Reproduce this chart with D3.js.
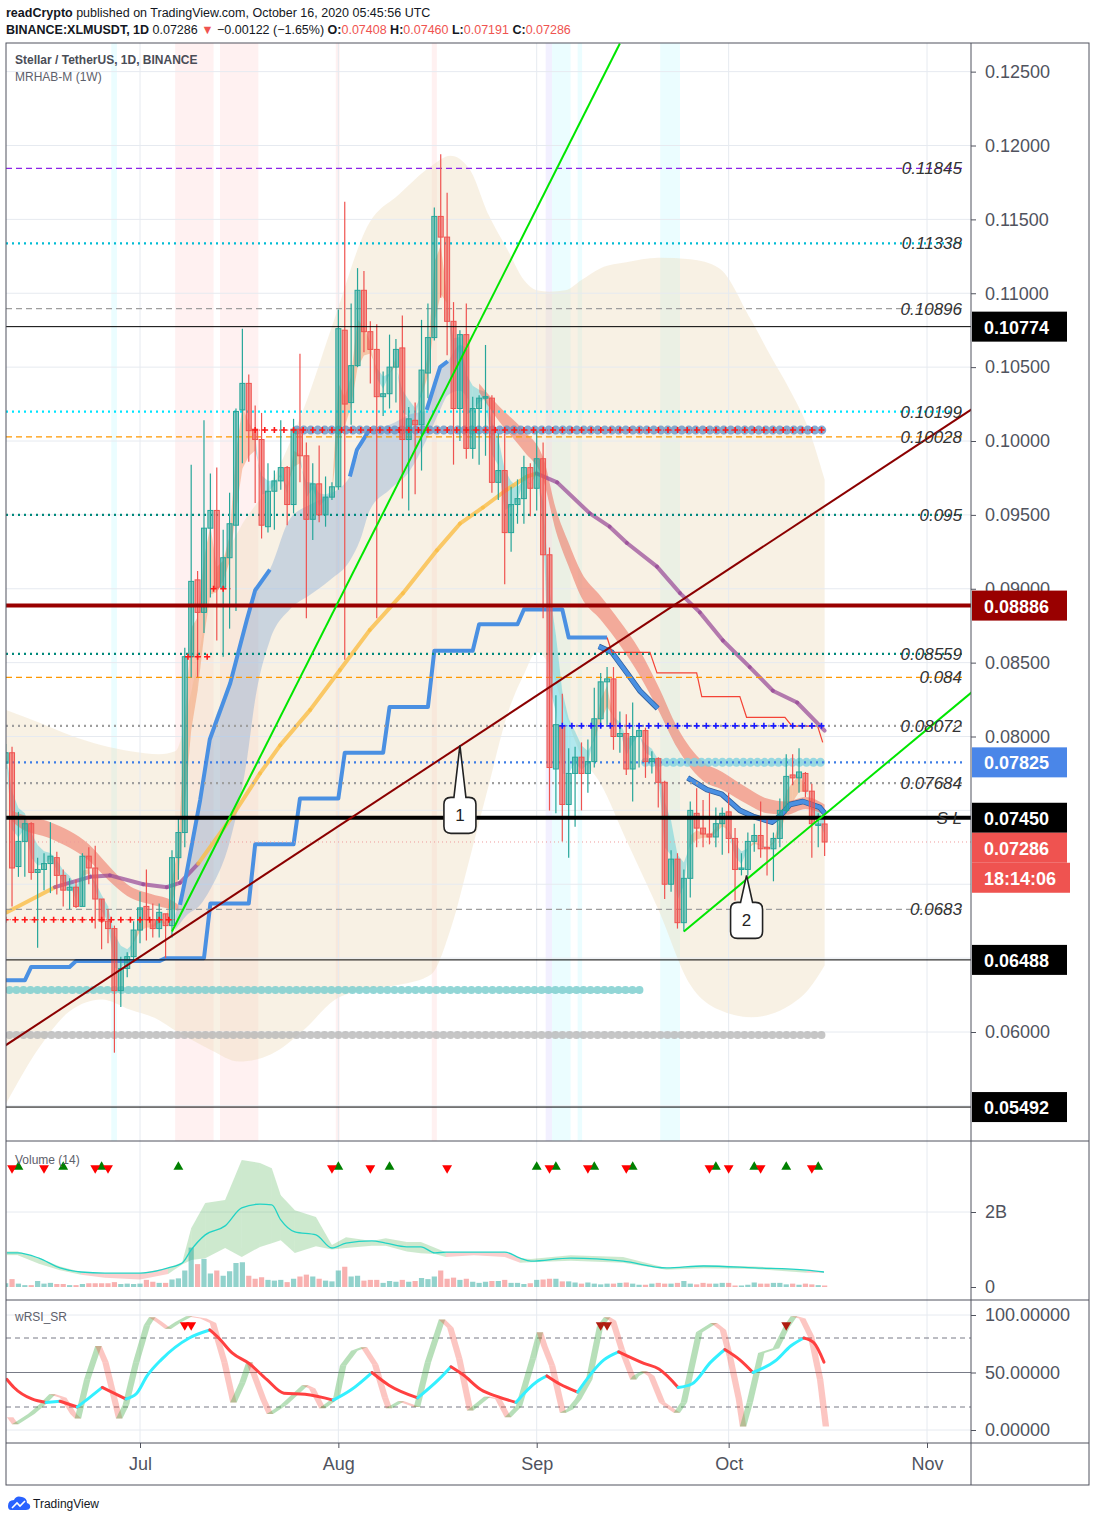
<!DOCTYPE html>
<html>
<head>
<meta charset="utf-8">
<script src="https://cdn.jsdelivr.net/npm/d3@7"></script>
<style>
  body { margin: 0; background: #fff; }
  svg text { font-family: "Liberation Sans", Arial, sans-serif; }
</style>
</head>
<body>
<svg id="chart" width="1096" height="1522"></svg>
<script>
//
// Data (days are counted from 2020-07-01, first candle is 2020-06-10)
//
const firstDay = -21;

const opens = [
  .0782, .0789, .0712, .0729, .0741, .0708, .0710, .0714, .0718, .0706,
  .0696, .0698, .0685, .0719, .0711, .0690, .0675, .0670, .0628, .0643,
  .0651, .0669, .0685, .0676, .0670, .0680, .0672, .0718, .0735, .0854,
  .0906, .0884, .0941, .0953, .0901, .0921, .0943, .1021, .1039, .1008,
  .1001, .0942, .0966, .0973, .0982, .0957, .1008, .0990, .0947, .0971,
  .0950, .0962, .0969, .1075, .1026, .1051, .1102, .1074, .1062, .1030,
  .1032, .1050, .1063, .1001, .1014, .1011, .1046, .1070, .1152, .1138,
  .1081, .1022, .1072, .0995, .1022, .1029, .1029, .0972, .0980, .0938,
  .0957, .0961, .0982, .0968, .0988, .0923, .0778, .0807, .0754, .0775,
  .0786, .0775, .0783, .0812, .0837, .0839, .0800, .0802, .0778, .0800,
  .0804, .0783, .0785, .0769, .0700, .0717, .0674, .0704, .0748, .0738,
  .0734, .0732, .0741, .0749, .0731, .0710, .0710, .0729, .0733, .0725,
  .0724, .0731, .0750, .0774, .0772, .0775, .0763, .0740, .07408
];
const highs = [
  .0795, .0793, .0749, .0746, .0742, .0718, .0721, .0742, .0722, .0710,
  .0704, .0703, .0721, .0725, .0726, .0690, .0683, .0672, .0651, .0654,
  .0675, .0695, .0710, .0687, .0687, .0680, .0723, .0745, .0860, .0984,
  .0912, .1014, .0978, .0982, .0940, .0965, .1022, .1076, .1045, .1024,
  .1019, .0985, .0980, .1014, .0983, .1015, .1059, .0999, .0985, .0997,
  .0976, .0972, .1089, .1162, .1093, .1117, .1115, .1081, .1079, .1047,
  .1072, .1069, .1085, .1023, .1026, .1082, .1093, .1158, .1194, .1168,
  .1094, .1075, .1093, .1030, .1031, .1065, .1031, .1005, .1005, .0969,
  .0974, .0990, .0985, .1007, .0999, .0928, .0828, .0829, .0792, .0793,
  .0796, .0798, .0833, .0843, .0847, .0847, .0817, .0815, .0823, .0809,
  .0806, .0790, .0786, .0770, .0723, .0721, .0710, .0756, .0765, .0757,
  .0762, .0752, .0752, .0762, .0738, .0721, .0735, .0741, .0756, .0745,
  .0735, .0758, .0788, .0788, .0792, .0776, .0768, .0748, .0746
];
const lows = [
  .0778, .0685, .0705, .0705, .0703, .0657, .0696, .0694, .0693, .0685,
  .0683, .0684, .0685, .0700, .0670, .0656, .0660, .0586, .0617, .0637,
  .0647, .0660, .0662, .0664, .0664, .0650, .0664, .0703, .0725, .0840,
  .0840, .0870, .0894, .0865, .0854, .0873, .0885, .0985, .0986, .0958,
  .0934, .0938, .0940, .0967, .0943, .0951, .0972, .0880, .0933, .0945,
  .0942, .0960, .0967, .0852, .1011, .1050, .1060, .1039, .0880, .1017,
  .1022, .1026, .0961, .0953, .0964, .0980, .1029, .1068, .1097, .1058,
  .0984, .1000, .0988, .0988, .0984, .0990, .0965, .0960, .0903, .0925,
  .0944, .0944, .0949, .0953, .0880, .0750, .0748, .0729, .0718, .0739,
  .0750, .0762, .0779, .0806, .0808, .0791, .0789, .0774, .0756, .0779,
  .0772, .0775, .0752, .0690, .0695, .0670, .0668, .0691, .0725, .0725,
  .0727, .0725, .0720, .0721, .0689, .0706, .0706, .0722, .0718, .0706,
  .0702, .0725, .0748, .0767, .0762, .0759, .0718, .0725, .07191
];
const closes = [
  .0789, .0711, .0729, .0741, .0708, .0710, .0714, .0719, .0706, .0696,
  .0698, .0685, .0719, .0711, .0690, .0675, .0670, .0628, .0643, .0651,
  .0669, .0684, .0676, .0670, .0681, .0672, .0718, .0735, .0854, .0905,
  .0884, .0941, .0953, .0901, .0921, .0944, .1020, .1039, .1007, .1001,
  .0943, .0966, .0973, .0982, .0957, .1008, .0990, .0947, .0971, .0950,
  .0962, .0969, .1076, .1025, .1051, .1102, .1074, .1062, .1030, .1032,
  .1050, .1062, .1001, .1015, .1011, .1048, .1070, .1152, .1138, .1081,
  .1022, .1072, .0995, .1022, .1029, .1030, .0972, .0980, .0938, .0957,
  .0961, .0982, .0968, .0988, .0923, .0779, .0808, .0754, .0775, .0786,
  .0775, .0783, .0812, .0837, .0839, .0800, .0802, .0778, .0800, .0804,
  .0783, .0785, .0769, .0700, .0717, .0674, .0704, .0750, .0738, .0734,
  .0732, .0741, .0748, .0731, .0710, .0711, .0729, .0733, .0724, .0724,
  .0731, .0750, .0773, .0772, .0776, .0763, .0741, .07408, .07286
];
// volume in billions
const volumes = [
  .10, .21, .09, .05, .05, .16, .09, .11, .08, .08,
  .05, .05, .08, .10, .10, .10, .10, .13, .08, .09,
  .08, .09, .19, .14, .11, .11, .20, .23, .44, 1.05,
  .61, .75, .36, .44, .30, .42, .64, .66, .30, .22,
  .26, .19, .17, .19, .13, .22, .28, .33, .28, .22,
  .17, .15, .44, .54, .28, .30, .17, .19, .19, .11,
  .16, .14, .19, .14, .16, .24, .21, .28, .44, .22,
  .25, .19, .22, .14, .11, .14, .16, .16, .19, .11,
  .11, .08, .10, .19, .20, .22, .22, .15, .15, .12,
  .09, .12, .09, .07, .09, .09, .11, .12, .09, .06,
  .06, .09, .11, .09, .09, .11, .16, .09, .07, .11,
  .09, .09, .11, .11, .04, .04, .06, .12, .09, .09,
  .11, .11, .07, .09, .06, .09, .07, .05, .04
];

// weekly envelope (beige cloud)
const envDays = [-21, -15.5, -11, -6, -1.5, 3, 5.5, 8, 11, 15.5, 20.5, 25.5, 30.5, 35.5, 40.5, 45.5, 48.5, 51.5,
  54.5, 57.5, 60, 62, 64, 66.5, 69, 72, 76, 81, 86, 90.5, 95.5, 98.5, 101.5, 104.5, 107];
const envUpper = [.0818, .0809, .0801, .0794, .0790, .0788, .0790, .0830, .0895, .0940, .0972, .1021, .1084, .1145,
  .1167, .1186, .1193, .1184, .1153, .1129, .1109, .1102, .1101, .1102, .1109, .1117, .1121, .1124, .1123, .1117,
  .1082, .1058, .1035, .1008, .0974];
const envLower = [.0551, .0591, .0614, .0622, .0615, .0608, .0601, .0595, .0588, .0580, .0585, .0601, .0622, .0629,
  .0632, .0639, .0669, .0717, .0767, .0816, .0842, .0857, .0848, .0815, .0787, .0768, .0730, .0683, .0632, .0615,
  .0610, .0612, .0618, .0629, .0645];

// slow bearish ribbon (salmon)
const slowJunDays = [-20, -19, -14, -8, -5, -2, 2, 5, 6];
const slowJunHi = [.0750, .0748, .0742, .0727, .0713, .0700, .0693, .0689, .0686];
const slowJunLo = [.0743, .0739, .0731, .0716, .0703, .0692, .0686, .0683, .0682];
const slowSepDays = [53, 56, 60, 63, 65, 67, 69, 72, 75, 78, 81, 84, 88, 91, 95, 98, 101, 104, 107];
const slowSepHi = [.1039, .1024, .1007, .0989, .0954, .0931, .0911, .0895, .0878, .0859, .0834, .0806, .0783, .0776,
  .0765, .0758, .0756, .0759, .0754];
const slowSepLo = [.1033, .1014, .0993, .0974, .0939, .0915, .0894, .0879, .0862, .0842, .0818, .0792, .0770, .0764,
  .0754, .0748, .0747, .0751, .0747];

// blue cloud
const cloudDays = [5.5, 7.3, 9.4, 10.9, 14.1, 16.7, 18, 20.3, 23.4, 26.6, 29.7, 32.8, 34.4, 35.9, 39, 42.2, 44.8, 46.9, 48.1, 50, 51.3];
const cloudUpper = [.0679, .0708, .0757, .0798, .0836, .0879, .0899, .0913, .0947, .0957, .0964, .0976, .0994, .1008,
  .1011, .1018, .1021, .1050, .1054, .1065, .1062];
const cloudLower = [.0669, .0679, .0686, .0696, .0730, .0784, .0825, .0865, .0886, .0896, .0906, .0919, .0933, .0953,
  .0967, .0980, .1001, .1021, .1031, .1034, .1028];

// thick blue line pieces
const blueLineDays = [
  [6.25, 7.3, 9.4, 10.9, 14.1, 16.7, 18, 20.3],
  [32.8, 33.9, 35.9],
  [44.8, 46.9, 48.1],
  [71.7, 73.75, 76.1, 78.1, 80.9],
  [85.6, 88.6, 90.9, 93.75, 95.8, 98.75, 100, 101.6, 103.6, 106.25, 107]
];
const blueLinePrices = [
  [.0686, .0708, .0757, .0798, .0836, .0879, .0899, .0913],
  [.0976, .0994, .1008],
  [.1021, .1050, .1054],
  [.0861, .0857, .0843, .0831, .0819],
  [.0772, .0764, .0761, .0750, .0746, .0742, .0746, .0754, .0756, .0752, .0748]
];

// moving average (yellow / purple)
const maDays = [-20.8, -13.3, -7.8, -4.7, 0.5, 4.2, 6.25, 9.1, 14.1, 18.75, 21.9, 26.6, 31.25, 35.9, 41.1, 46.4, 50,
  53.6, 57.3, 60.5, 62, 65.2, 70.3, 73.4, 76.1, 80.8, 84.4, 87.5, 91.1, 95.3, 98.9, 102.7, 107];
const maValues = [.0681, .0698, .0705, .0706, .0700, .0698, .0701, .0714, .0744, .0775, .0794, .0818, .0845, .0872,
  .0897, .0926, .0944, .0955, .0967, .0976, .0978, .0972, .0951, .0942, .0931, .0915, .0897, .0884, .0865, .0847,
  .0831, .0823, .0804];
const maBearRanges = [[-13.3, 9.1], [62, 107]];

// weekly step (MRHAB 1W) and red trailing step
const weekStarts = [-21, -17, -10, -3, 4, 11, 18, 25, 32, 39, 46, 53, 60, 67];
const weekLevels = [.0635, .0644, .0648, .0648, .0650, .0687, .0727, .0758, .0789, .0820, .0858, .0876, .0886, .0867];
const weekEnd = 73;
const redStepDays = [73, 73.75, 79.7, 80.8, 87, 87.8, 93.75, 94.8, 100.8, 101.9, 105.9, 106.7];
const redStepPrices = [.0867, .0857, .0857, .0843, .0843, .0827, .0827, .0813, .0813, .0807, .0807, .0796];

// red "+" support steps
const supportStarts = [-21, 7.5, 11.5, 18];
const supportEnds = [5.5, 11, 14.5, 107.3];
const supportPrices = [.0676, .0854, .0900, .10074];

// horizontal levels
const levelPrices = [0.11845, 0.11338, 0.10896, 0.10199, 0.10028, 0.095, 0.08559, 0.084, 0.08072, 0.07825, 0.07684, 0.0683];
const levelLabels = ['0.11845', '0.11338', '0.10896', '0.10199', '0.10028', '0.095', '0.08559', '0.084', '0.08072', '', '0.07684', '0.0683'];
const solidPrices = [0.10774, 0.08886, 0.0745, 0.06488, 0.05492];
const boxPrices = [0.10774, 0.08886, 0.07825, 0.0745, 0.07286, 0.06488, 0.05492];
const countdown = '18:14:06';
const priceTicks = [0.055, 0.06, 0.065, 0.07, 0.075, 0.08, 0.085, 0.09, 0.095, 0.10, 0.105, 0.11, 0.115, 0.12, 0.125];

// trend lines [day, price] pairs
const trendRed = [[-21, 0.0591], [130, 0.10215]];
const trendGreenA = [[5, 0.0668], [75, 0.1269]];
const trendGreenB = [[85, 0.0668], [130, 0.0830]];
const calloutDays = [50, 94.8];
const calloutPrices = [0.0794, 0.0706];
const calloutTexts = ['1', '2'];

// background highlight columns
const pinkBands = [[5.5, 11.5], [12.5, 18.5], [30.6, 31.2], [45.6, 46.4]];
const cyanBands = [[-4.5, -3.6], [64.4, 67.3], [68.4, 69.1], [81.3, 84.4]];
const lilacBands = [[63.4, 64.4]];

// volume pane indicator
const volMaDays = [-20.8, -19.1, -15.8, -12.5, -9.2, -5.5, 0, 4.4, 6.6, 8, 10.2, 13.3, 15.9, 18.75, 20.6, 22, 24.2,
  27.5, 30, 32.2, 36.25, 38.4, 41.7, 43.9, 46.1, 47.8, 52.2, 57, 59.4, 61.1, 67.3, 75.5, 82.3, 88.1, 96.1, 104.2, 106.9];
const volMaVals = [.91, .91, .77, .51, .40, .37, .37, .51, .64, .99, 1.39, 1.63, 2.11, 2.21, 2.19, 1.79, 1.47, 1.39,
  1.04, 1.17, 1.23, 1.17, 1.07, 1.07, .91, .93, .93, .93, .77, .69, .77, .69, .51, .56, .51, .45, .40];
const volHi = [.95, .95, .77, .55, .40, .37, .37, .51, .66, 1.57, 2.24, 2.32, 3.39, 3.31, 3.17, 2.45, 2.05, 1.87,
  1.12, 1.33, 1.23, 1.30, 1.20, 1.20, 1.05, .93, .93, .93, .77, .75, .85, .80, .51, .58, .55, .45, .40];
const volLo = [.85, .85, .62, .45, .33, .25, .20, .35, .60, .72, .77, 1.04, .80, 1.07, 1.17, 1.25, .91, 1.09,
  1.00, 1.04, 1.10, 1.10, .95, .90, .88, .80, .85, .80, .65, .66, .70, .65, .46, .50, .48, .38, .38];
const volUpDays = [-19, -12, -6, 6, 31, 39, 62, 65, 71, 77, 90, 96, 101, 106];
const volDownDays = [-20, -15, -7, -5, 30, 36, 48, 64, 70, 76, 89, 92, 97, 105];

// wRSI_SR
const rsiSigDays = [-20.8, -19.7, -16.9, -14.7, -12.5, -9.8, -7.7, -5.9, -4.8, -2.2, -0.5, 1.1, 3.3, 7.7, 10.9, 12.3,
  14.4, 17, 19.8, 22.5, 25.8, 30.2, 33, 36.25, 38.9, 43.4, 46.7, 48.6, 50.5, 53.3, 55.9, 58.75, 62, 63.6, 65.6, 68.4,
  72.5, 74.8, 78.75, 81.1, 84.1, 86.25, 89.2, 91.4, 93.75, 95.8, 99.5, 101.7, 103.75, 105.3, 106.9];
const rsiSigVals = [44, 37, 27, 24, 25, 20, 29, 37, 34, 27, 32, 47, 61, 80, 87, 80, 67, 58, 44, 32, 31, 26, 35, 50,
  39, 28, 44, 55, 48, 35, 29, 24, 42, 47, 40, 33, 61, 68, 58, 53, 37, 40, 59, 70, 61, 50, 61, 73, 80, 76, 59];
const rsiFastDays = [-20.8, -20, -17.5, -15.8, -14.2, -12.5, -10.9, -10.2, -8.75, -7, -5.9, -3.75, -2.7, -1.1, 0.6,
  1.4, 2.5, 3.9, 5.5, 7.2, 9.4, 10.9, 12.7, 14.1, 15.5, 16.6, 18.75, 19.8, 22, 25.3, 26.4, 28, 30.2, 31.25, 33, 34.5,
  36.25, 37.8, 38.4, 40.3, 42.8, 44.5, 46.7, 48, 49.4, 51.1, 53.75, 55.5, 57, 58.75, 60.9, 62, 62.7, 63.9, 65.6, 66.7,
  68, 69.7, 71.4, 72.5, 73.4, 74.8, 76.6, 77, 78.3, 79.4, 81.1, 83.4, 84.5, 86.9, 89.2, 90.6, 91.7, 93.1, 93.75, 94.8,
  96.6, 98.9, 100.6, 101.7, 103, 104.4, 105.8, 106.7];
const rsiFastVals = [11, 5, 14, 22, 31, 28, 14, 10, 44, 73, 59, 10, 22, 59, 91, 98, 94, 88, 94, 99, 97, 93, 59, 24,
  41, 59, 27, 14, 22, 39, 36, 19, 28, 56, 69, 72, 57, 28, 19, 25, 20, 59, 96, 89, 62, 17, 29, 27, 11, 21, 62, 85, 73,
  56, 15, 18, 27, 44, 90, 98, 95, 70, 44, 47, 51, 47, 24, 15, 24, 85, 93, 87, 64, 27, 3, 24, 67, 71, 90, 99, 97, 81,
  44, 3];
const rsiMarkDays = [7, 8, 72, 73, 101];

const monthTicks = ['2020-07-01', '2020-08-01', '2020-09-01', '2020-10-01', '2020-11-01'];

//
// Layout & scales
//
const plotL = 6, plotR = 971, mainT = 43, mainB = 1141, volB = 1300, rsiB = 1443, axisB = 1485, frameR = 1089;
const axisColor = '#50535e';
const gridColor = '#e6eaf0';

const day0 = Date.UTC(2020, 6, 1);
const x = d3.scaleUtc()
  .domain([new Date(day0), new Date(Date.UTC(2020, 10, 1))])
  .range([140, 927]);
const dx = d => x(new Date(day0 + d * 864e5));
const y = d3.scaleLinear().domain([0.06, 0.10]).range([1032, 441]);
const yv = d3.scaleLinear().domain([0, 2]).range([1287, 1212]);
const yr = d3.scaleLinear().domain([0, 100]).range([1430, 1315]);

const days = opens.map((o, i) => firstDay + i);
const monthDates = monthTicks.map(d3.utcParse('%Y-%m-%d'));

const svg = d3.select('#chart');
svg.append('rect').attr('width', 1096).attr('height', 1522).attr('fill', '#fff');

const defs = svg.append('defs');
const clip = (id, y0, y1) => defs.append('clipPath').attr('id', id).append('rect')
  .attr('x', plotL).attr('y', y0).attr('width', plotR - plotL).attr('height', y1 - y0);
clip('clipMain', mainT, mainB);
clip('clipVol', mainB, volB);
clip('clipRsi', volB, rsiB);

//
// Header
//
const head = svg.append('g').style('font-size', '12.5px').attr('fill', '#131722');
const h1 = head.append('text').attr('x', 6).attr('y', 17);
h1.append('tspan').attr('font-weight', 'bold').text('readCrypto');
h1.append('tspan').text(' published on TradingView.com, October 16, 2020 05:45:56 UTC');
const h2 = head.append('text').attr('x', 6).attr('y', 34);
h2.append('tspan').attr('font-weight', 'bold').text('BINANCE:XLMUSDT, 1D');
h2.append('tspan').text(' 0.07286 ');
h2.append('tspan').attr('fill', '#ef5350').text('▼');
h2.append('tspan').text(' −0.00122 (−1.65%) ');
[['O:', '0.07408'], ['H:', '0.07460'], ['L:', '0.07191'], ['C:', '0.07286']].forEach(([k, v], i) => {
  h2.append('tspan').attr('font-weight', 'bold').text((i ? ' ' : '') + k);
  h2.append('tspan').attr('fill', '#ef5350').text(v);
});

//
// Main pane
//
const main = svg.append('g').attr('clip-path', 'url(#clipMain)');

const addBands = (list, fill) => list.forEach(b => main.append('rect')
  .attr('x', dx(b[0])).attr('width', dx(b[1]) - dx(b[0]))
  .attr('y', mainT).attr('height', mainB - mainT).attr('fill', fill));
addBands(pinkBands, 'rgba(255,82,82,0.08)');
addBands(cyanBands, 'rgba(0,229,255,0.08)');
addBands(lilacBands, 'rgba(110,90,255,0.09)');

// beige envelope
const envData = envDays.map((d, i) => ({ d, hi: envUpper[i], lo: envLower[i] }));
main.append('path').datum(envData)
  .attr('d', d3.area().x(e => dx(e.d)).y0(e => y(e.lo)).y1(e => y(e.hi)).curve(d3.curveMonotoneX))
  .attr('fill', '#ecd9b8').attr('opacity', 0.38);

// grid
priceTicks.forEach(p => main.append('line').attr('x1', plotL).attr('x2', plotR)
  .attr('y1', y(p)).attr('y2', y(p)).attr('stroke', gridColor));
monthDates.forEach(m => main.append('line').attr('x1', x(m)).attr('x2', x(m))
  .attr('y1', mainT).attr('y2', mainB).attr('stroke', gridColor));

// fast ribbon from the closes
const ema = (arr, n) => {
  const k = 2 / (n + 1), out = [];
  arr.forEach((v, i) => out.push(i ? v * k + out[i - 1] * (1 - k) : v));
  return out;
};
const fastA = ema(closes, 2), fastB = ema(closes, 5);
for (let i = 0; i < days.length - 1; i++) {
  const up = fastA[i] + fastA[i + 1] >= fastB[i] + fastB[i + 1];
  const pts = [[dx(days[i]), y(fastA[i])], [dx(days[i + 1]), y(fastA[i + 1])],
    [dx(days[i + 1]), y(fastB[i + 1])], [dx(days[i]), y(fastB[i])]];
  main.append('path').attr('d', 'M' + pts.join('L') + 'Z')
    .attr('fill', up ? 'rgba(240,135,80,0.42)' : 'rgba(70,200,215,0.42)');
}

// slow salmon ribbon
const bandArea = d3.area().x(e => dx(e.d)).y0(e => y(e.lo)).y1(e => y(e.hi)).curve(d3.curveMonotoneX);
[[slowJunDays, slowJunHi, slowJunLo], [slowSepDays, slowSepHi, slowSepLo]].forEach(([ds, hs, ls]) => {
  main.append('path').datum(ds.map((d, i) => ({ d, hi: hs[i], lo: ls[i] })))
    .attr('d', bandArea).attr('fill', 'rgba(238,100,80,0.5)');
});

// blue cloud
main.append('path').datum(cloudDays.map((d, i) => ({ d, hi: cloudUpper[i], lo: cloudLower[i] })))
  .attr('d', bandArea).attr('fill', 'rgba(110,155,210,0.33)');

// moving average, purple when bearish
const isBear = d => maBearRanges.some(r => d >= r[0] - 1e-6 && d <= r[1] + 1e-6);
for (let i = 0; i < maDays.length - 1; i++) {
  const bear = isBear((maDays[i] + maDays[i + 1]) / 2);
  main.append('line')
    .attr('x1', dx(maDays[i])).attr('y1', y(maValues[i]))
    .attr('x2', dx(maDays[i + 1])).attr('y2', y(maValues[i + 1]))
    .attr('stroke', bear ? 'rgba(150,70,150,0.7)' : 'rgba(250,190,70,0.8)')
    .attr('stroke-width', 4).attr('stroke-linecap', 'round');
}

// thick blue line pieces
const line = d3.line().x(p => dx(p[0])).y(p => y(p[1]));
blueLineDays.forEach((ds, k) => {
  const pts = ds.map((d, i) => [d, blueLinePrices[k][i]]);
  if (k >= 3) {
    main.append('path').datum(pts).attr('d', line).attr('fill', 'none')
      .attr('stroke', '#2f5f9e').attr('stroke-width', 5.5).attr('stroke-linejoin', 'round');
  }
  main.append('path').datum(pts).attr('d', line).attr('fill', 'none')
    .attr('stroke', '#4a90e2').attr('stroke-width', 4).attr('stroke-linejoin', 'round');
});

// weekly step
const stepPts = [];
weekStarts.forEach((s, i) => {
  const e = i < weekStarts.length - 1 ? weekStarts[i + 1] - 1 : weekEnd;
  stepPts.push([s, weekLevels[i]], [e, weekLevels[i]]);
});
main.append('path').datum(stepPts).attr('d', line).attr('fill', 'none')
  .attr('stroke', '#4a90e2').attr('stroke-width', 4).attr('stroke-linejoin', 'round');

// red trailing step
main.append('path').datum(redStepDays.map((d, i) => [d, redStepPrices[i]])).attr('d', line)
  .attr('fill', 'none').attr('stroke', '#f44336').attr('stroke-width', 1.2);

// bead lines
const beads = (p, d0, d1, color, w, op) => main.append('line')
  .attr('x1', dx(d0)).attr('x2', dx(d1)).attr('y1', y(p)).attr('y2', y(p))
  .attr('stroke', color).attr('stroke-width', w).attr('stroke-dasharray', '0 7')
  .attr('stroke-linecap', 'round').attr('opacity', op);
beads(0.0598, -21.5, 107.3, '#b8b8b8', 8, 0.8);
beads(0.06284, -21.5, 78.1, '#7fcfd0', 8, 0.85);
beads(0.07825, 79, 107.3, '#7fd3e0', 9, 0.8);
beads(supportPrices[3], 24.5, 107.3, '#5b8fc7', 9, 0.75);

// levels
const levelStyles = [
  ['#8e24e8', '6 4', 1.3], ['#00bcd4', '2 4', 2.2], ['#9e9e9e', '6 4', 1.3], ['#00e5ff', '2 4', 2.2],
  ['#ff9800', '6 4', 1.3], ['#00897b', '2 4', 2.2], ['#00897b', '2 4', 2.2], ['#ff9800', '6 4', 1.3],
  ['#9e9e9e', '2 4', 2.2], ['#3d7de6', '2 4', 2.2], ['#9e9e9e', '2 4', 2.2], ['#9e9e9e', '6 4', 1.3]
];
levelPrices.forEach((p, i) => main.append('line')
  .attr('x1', plotL).attr('x2', plotR - 8).attr('y1', y(p)).attr('y2', y(p))
  .attr('stroke', levelStyles[i][0]).attr('stroke-dasharray', levelStyles[i][1])
  .attr('stroke-width', levelStyles[i][2]));
// current price
main.append('line').attr('x1', plotL).attr('x2', plotR).attr('y1', y(closes[closes.length - 1]))
  .attr('y2', y(closes[closes.length - 1])).attr('stroke', '#ef9a9a').attr('stroke-dasharray', '1 3');

// candles
const candles = main.append('g');
days.forEach((d, i) => {
  const up = closes[i] >= opens[i];
  const col = up ? '#26a69a' : '#ef5350';
  const cx = dx(d);
  candles.append('line').attr('x1', cx).attr('x2', cx)
    .attr('y1', y(highs[i])).attr('y2', y(lows[i])).attr('stroke', col).attr('stroke-width', 1.2);
  const top = y(Math.max(opens[i], closes[i]));
  const h = Math.max(1.5, Math.abs(y(opens[i]) - y(closes[i])));
  candles.append('rect').attr('x', cx - 2.5).attr('y', top).attr('width', 5).attr('height', h)
    .attr('fill', up ? 'rgba(38,166,154,0.5)' : 'rgba(239,83,80,0.55)')
    .attr('stroke', col).attr('stroke-width', 1);
});

// red + support steps and blue + level
const crosses = (p, d0, d1, color) => {
  main.append('line').attr('x1', dx(d0)).attr('x2', dx(d1)).attr('y1', y(p)).attr('y2', y(p))
    .attr('stroke', color).attr('stroke-width', 1).attr('stroke-dasharray', '1 3');
  for (let xx = dx(d0); xx <= dx(d1); xx += 9.6) {
    main.append('path').attr('transform', `translate(${xx},${y(p)})`)
      .attr('d', 'M-3,0H3M0,-3V3').attr('stroke', color).attr('stroke-width', 1.6);
  }
};
supportPrices.forEach((p, i) => crosses(p, supportStarts[i], supportEnds[i], '#ff1a1a'));
crosses(levelPrices[8], 66, 107, '#1a1aff');

// solid horizontal lines
const solidStyles = [['#000', 1], ['#990000', 4], ['#000', 4], ['#000', 1], ['#000', 1]];
solidPrices.forEach((p, i) => main.append('line')
  .attr('x1', plotL).attr('x2', plotR).attr('y1', y(p)).attr('y2', y(p))
  .attr('stroke', solidStyles[i][0]).attr('stroke-width', solidStyles[i][1]));

// trend lines
const trend = (pts, color, w) => main.append('path').datum(pts).attr('d', line)
  .attr('fill', 'none').attr('stroke', color).attr('stroke-width', w);
trend(trendRed, '#8b0000', 2);
trend(trendGreenA, '#00e600', 2);
trend(trendGreenB, '#00e600', 2);

// callouts
const boxDrop = [52, 27];
calloutDays.forEach((d, i) => {
  const tx = dx(d), ty = y(calloutPrices[i]);
  const top = ty + boxDrop[i], l = tx - 16, r = tx + 16, b = top + 36, c = 7;
  const path = `M${tx + 6},${top}L${r - c},${top}Q${r},${top} ${r},${top + c}L${r},${b - c}Q${r},${b} ${r - c},${b}`
    + `L${l + c},${b}Q${l},${b} ${l},${b - c}L${l},${top + c}Q${l},${top} ${l + c},${top}L${tx - 6},${top}L${tx},${ty}Z`;
  main.append('path').attr('d', path).attr('fill', '#fff').attr('stroke', '#222').attr('stroke-width', 1.6);
  main.append('text').attr('x', tx).attr('y', top + 24).attr('text-anchor', 'middle')
    .style('font-size', '17px').attr('fill', '#222').text(calloutTexts[i]);
});

// italic level labels
levelPrices.forEach((p, i) => {
  if (!levelLabels[i]) return;
  main.append('text').attr('x', 962).attr('y', y(p) + 6).attr('text-anchor', 'end')
    .style('font-size', '17px').style('font-style', 'italic').attr('fill', '#333').text(levelLabels[i]);
});
main.append('text').attr('x', 962).attr('y', y(solidPrices[2]) + 6).attr('text-anchor', 'end')
  .style('font-size', '17px').style('font-style', 'italic').attr('fill', '#333').text('S L');

// legend
main.append('text').attr('x', 15).attr('y', 64).style('font-size', '12px').attr('font-weight', 'bold')
  .attr('fill', '#4a4d57').text('Stellar / TetherUS, 1D, BINANCE');
main.append('text').attr('x', 15).attr('y', 81).style('font-size', '12px')
  .attr('fill', '#5d606b').text('MRHAB-M (1W)');

//
// Volume pane
//
const vol = svg.append('g').attr('clip-path', 'url(#clipVol)');
monthDates.forEach(m => vol.append('line').attr('x1', x(m)).attr('x2', x(m))
  .attr('y1', mainB).attr('y2', volB).attr('stroke', gridColor));
vol.append('line').attr('x1', plotL).attr('x2', plotR).attr('y1', yv(2)).attr('y2', yv(2)).attr('stroke', gridColor);

for (let i = 0; i < volMaDays.length - 1; i++) {
  const bull = (volHi[i] - volMaVals[i]) + (volHi[i + 1] - volMaVals[i + 1]) > 0.01;
  const pts = [[dx(volMaDays[i]), yv(volHi[i])], [dx(volMaDays[i + 1]), yv(volHi[i + 1])],
    [dx(volMaDays[i + 1]), yv(volLo[i + 1])], [dx(volMaDays[i]), yv(volLo[i])]];
  vol.append('path').attr('d', 'M' + pts.join('L') + 'Z')
    .attr('fill', bull ? 'rgba(76,175,80,0.28)' : 'rgba(239,83,80,0.28)');
}
days.forEach((d, i) => {
  const up = closes[i] >= opens[i];
  vol.append('rect').attr('x', dx(d) - 2.6).attr('width', 5.2)
    .attr('y', yv(volumes[i])).attr('height', yv(0) - yv(volumes[i]))
    .attr('fill', up ? 'rgba(38,166,154,0.5)' : 'rgba(239,83,80,0.45)');
});
vol.append('path').datum(volMaDays.map((d, i) => [d, volMaVals[i]]))
  .attr('d', d3.line().x(p => dx(p[0])).y(p => yv(p[1])).curve(d3.curveMonotoneX))
  .attr('fill', 'none').attr('stroke', '#22d3c5').attr('stroke-width', 1.3);

const tri = d3.symbol(d3.symbolTriangle).size(42)();
volUpDays.forEach(d => vol.append('path').attr('d', tri)
  .attr('transform', `translate(${dx(d)},1167)`).attr('fill', '#008000'));
volDownDays.forEach(d => vol.append('path').attr('d', tri)
  .attr('transform', `translate(${dx(d)},1168) rotate(180)`).attr('fill', '#ff0000'));
vol.append('text').attr('x', 15).attr('y', 1164).style('font-size', '12px').attr('fill', '#5d606b').text('Volume (14)');

//
// wRSI pane
//
const rsi = svg.append('g').attr('clip-path', 'url(#clipRsi)');
monthDates.forEach(m => rsi.append('line').attr('x1', x(m)).attr('x2', x(m))
  .attr('y1', volB).attr('y2', rsiB).attr('stroke', gridColor));
[0, 100].forEach(v => rsi.append('line').attr('x1', plotL).attr('x2', plotR)
  .attr('y1', yr(v)).attr('y2', yr(v)).attr('stroke', gridColor));
[20, 80].forEach(v => rsi.append('line').attr('x1', plotL).attr('x2', plotR)
  .attr('y1', yr(v)).attr('y2', yr(v)).attr('stroke', '#787b86').attr('stroke-dasharray', '5 4'));
rsi.append('line').attr('x1', plotL).attr('x2', plotR).attr('y1', yr(50)).attr('y2', yr(50)).attr('stroke', '#787b86');

const lagPx = dx(1) - dx(0);
for (let i = 0; i < rsiFastDays.length - 1; i++) {
  const x0 = dx(rsiFastDays[i]), x1 = dx(rsiFastDays[i + 1]);
  const y0 = yr(rsiFastVals[i]), y1 = yr(rsiFastVals[i + 1]);
  const pts = [[x0, y0], [x1, y1], [x1 + lagPx, y1], [x0 + lagPx, y0]];
  rsi.append('path').attr('d', 'M' + pts.join('L') + 'Z')
    .attr('fill', rsiFastVals[i + 1] >= rsiFastVals[i] ? 'rgba(76,175,80,0.4)' : 'rgba(244,67,54,0.3)');
}
// signal line, red while falling, cyan while rising
let run = [0];
const sigLine = d3.line().x(i => dx(rsiSigDays[i])).y(i => yr(rsiSigVals[i])).curve(d3.curveMonotoneX);
for (let i = 1; i < rsiSigDays.length; i++) {
  run.push(i);
  const rising = rsiSigVals[i] >= rsiSigVals[i - 1];
  const next = i < rsiSigDays.length - 1 ? rsiSigVals[i + 1] >= rsiSigVals[i] : !rising;
  if (next !== rising || i === rsiSigDays.length - 1) {
    rsi.append('path').datum(run).attr('d', sigLine).attr('fill', 'none')
      .attr('stroke', rising ? '#33f0ff' : '#ff4040').attr('stroke-width', 3).attr('stroke-linecap', 'round');
    run = [i];
  }
}
rsiMarkDays.forEach((d, i) => rsi.append('path').attr('d', tri)
  .attr('transform', `translate(${dx(d)},1325) rotate(180)`).attr('fill', i < 2 ? '#ff0000' : '#b01c10'));
rsi.append('text').attr('x', 15).attr('y', 1321).style('font-size', '12px').attr('fill', '#5d606b').text('wRSI_SR');

//
// Axes
//
const styleAxis = g => {
  g.attr('font-family', null).attr('font-size', null);
  g.select('.domain').remove();
  g.selectAll('line').attr('stroke', axisColor);
  g.selectAll('text').style('font-size', '18px').attr('fill', axisColor);
};

// price boxes first, to know which axis labels they hide
const boxStyles = ['#000', '#990000', '#4a86e8', '#000', '#ef5350', '#000', '#000'];
const boxes = boxPrices.map((p, i) => ({ text: d3.format('.5f')(p), c: y(p), fill: boxStyles[i], w: 95 }));
boxes.splice(5, 0, { text: countdown, c: 0, fill: '#ef5350', w: 98, after: true });
let lastBottom = -Infinity;
boxes.forEach(b => {
  if (b.after) b.c = lastBottom + 15;
  b.top = Math.max(b.c - 15, lastBottom);
  lastBottom = b.top + 30;
});
const shownTicks = priceTicks.filter(p => boxes.every(b => Math.abs(b.top + 15 - y(p)) >= 12));

svg.append('g').attr('transform', `translate(${plotR},0)`)
  .call(d3.axisRight(y).tickValues(shownTicks).tickFormat(d3.format('.5f')).tickSize(5).tickPadding(9))
  .call(styleAxis);
svg.append('g').attr('transform', `translate(${plotR},0)`)
  .call(d3.axisRight(yv).tickValues([0, 2]).tickFormat(v => v ? v + 'B' : '0').tickSize(5).tickPadding(9))
  .call(styleAxis);
svg.append('g').attr('transform', `translate(${plotR},0)`)
  .call(d3.axisRight(yr).tickValues([0, 50, 100]).tickFormat(d3.format('.5f')).tickSize(5).tickPadding(9))
  .call(styleAxis);
svg.append('g').attr('transform', `translate(0,${rsiB})`)
  .call(d3.axisBottom(x).tickValues(monthDates).tickFormat(d3.utcFormat('%b')).tickSize(5).tickPadding(9))
  .call(styleAxis);

boxes.forEach(b => {
  svg.append('rect').attr('x', plotR + 1).attr('y', b.top).attr('width', b.w).attr('height', 30).attr('fill', b.fill);
  svg.append('text').attr('x', plotR + 13).attr('y', b.top + 22).style('font-size', '18px')
    .attr('font-weight', 'bold').attr('fill', '#fff').text(b.text);
});

//
// Frame
//
const frame = svg.append('g').attr('stroke', axisColor).attr('stroke-width', 1);
frame.append('rect').attr('x', plotL).attr('y', mainT).attr('width', frameR - plotL).attr('height', axisB - mainT).attr('fill', 'none');
frame.append('line').attr('x1', plotR).attr('x2', plotR).attr('y1', mainT).attr('y2', axisB);
[mainB, volB, rsiB].forEach(v => frame.append('line').attr('x1', plotL).attr('x2', frameR).attr('y1', v).attr('y2', v));

// footer logo
const logo = svg.append('g').attr('transform', 'translate(8,1497)');
logo.append('path').attr('d', 'M0,9 Q0,3 6,3 Q8,-2 14,0 Q19,1 19,6 Q23,7 22,11 Q21,13 18,13 L3,13 Q0,13 0,9Z').attr('fill', '#2962ff');
logo.append('path').attr('d', 'M4,11 L9,6 L12,9 L17,4').attr('stroke', '#fff').attr('stroke-width', 1.6).attr('fill', 'none');
svg.append('text').attr('x', 33).attr('y', 1508).style('font-size', '12px').attr('fill', '#131722').text('TradingView');
</script>
</body>
</html>
